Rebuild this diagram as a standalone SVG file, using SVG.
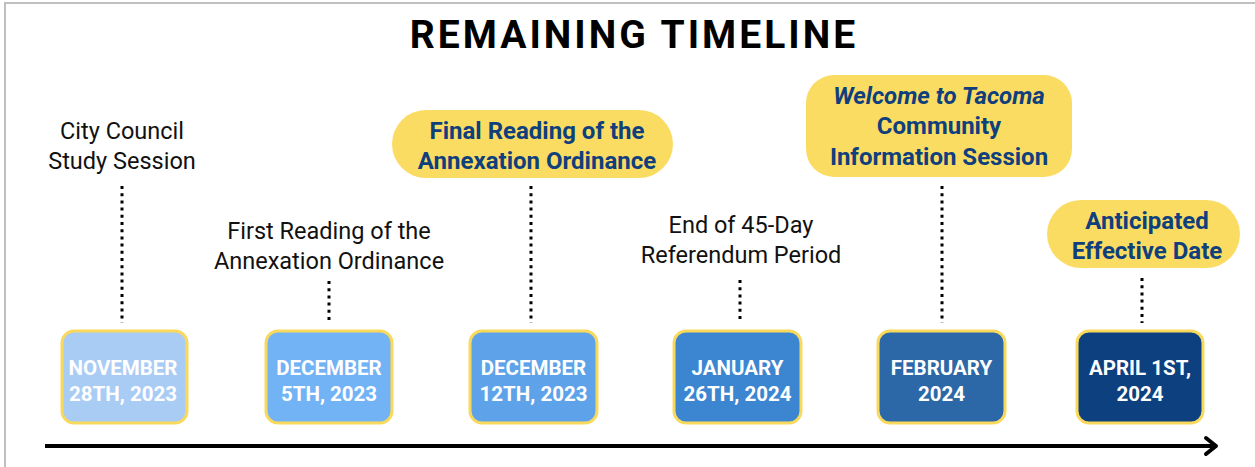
<svg xmlns="http://www.w3.org/2000/svg" width="1255" height="467" viewBox="0 0 1255 467">
<style>
.title{font-family:Roboto,"Liberation Sans",sans-serif;font-weight:700;font-size:39px;letter-spacing:3px;fill:#000;text-anchor:middle}
.lbl{font-family:Roboto,"Liberation Sans",sans-serif;font-size:23.5px;fill:#111;text-anchor:middle}
.pill{fill:#fbdc62}
.ptxt{font-family:Roboto,"Liberation Sans",sans-serif;font-weight:700;font-size:24px;fill:#0f3f7c;text-anchor:middle}
.box{stroke:#f9d95c;stroke-width:3}
.btxt{font-family:Roboto,"Liberation Sans",sans-serif;font-weight:700;font-size:20.5px;fill:#fff;text-anchor:middle}
.dot{stroke:#000;stroke-width:3;stroke-dasharray:3 4.2;fill:none}
</style>
<rect x="5" y="3" width="1260" height="480" fill="#fff" stroke="#c0c0c0" stroke-width="2"/>
<text class="title" x="634" y="48">REMAINING TIMELINE</text>
<g id="connectors">
<line class="dot" x1="122" y1="186" x2="122" y2="323"/>
<line class="dot" x1="329" y1="281" x2="329" y2="323"/>
<line class="dot" x1="531" y1="186" x2="531" y2="323"/>
<line class="dot" x1="740" y1="280" x2="740" y2="323"/>
<line class="dot" x1="942" y1="186" x2="942" y2="323"/>
<line class="dot" x1="1142" y1="278" x2="1142" y2="323"/>
<line x1="45" y1="446" x2="1214" y2="446" stroke="#000" stroke-width="4"/>
<polyline points="1206,438 1216,446 1206,454" fill="none" stroke="#000" stroke-width="4" stroke-linecap="round" stroke-linejoin="round"/>
</g>
<g id="lbl-nov28"><text class="lbl" x="122" y="139">City Council</text><text class="lbl" x="122" y="169">Study Session</text></g>
<g id="lbl-dec5"><text class="lbl" x="329" y="239">First Reading of the</text><text class="lbl" x="329" y="269">Annexation Ordinance</text></g>
<g id="lbl-dec12"><rect class="pill" x="392" y="110" width="281" height="68" rx="34"/><text class="ptxt" x="537" y="139">Final Reading of the</text><text class="ptxt" x="537" y="169">Annexation Ordinance</text></g>
<g id="lbl-jan26"><text class="lbl" x="741" y="233">End of 45-Day</text><text class="lbl" x="741" y="263">Referendum Period</text></g>
<g id="lbl-feb"><rect class="pill" x="806" y="75" width="266" height="102" rx="28"/><text class="ptxt" x="939" y="104" font-style="italic">Welcome to Tacoma</text><text class="ptxt" x="939" y="134">Community</text><text class="ptxt" x="939" y="165">Information Session</text></g>
<g id="lbl-apr1"><rect class="pill" x="1047" y="200" width="193" height="68" rx="34"/><text class="ptxt" x="1147" y="229">Anticipated</text><text class="ptxt" x="1147" y="259">Effective Date</text></g>
<g id="box-nov28"><rect class="box" x="62" y="331" width="125" height="92" rx="12" fill="#a9ccf5"/><text class="btxt" x="123" y="375">NOVEMBER</text><text class="btxt" x="123" y="401">28TH, 2023</text></g>
<g id="box-dec5"><rect class="box" x="266" y="331" width="126" height="92" rx="12" fill="#72b3f6"/><text class="btxt" x="329" y="375">DECEMBER</text><text class="btxt" x="329" y="401">5TH, 2023</text></g>
<g id="box-dec12"><rect class="box" x="470" y="331" width="127" height="92" rx="12" fill="#5ea3ea"/><text class="btxt" x="533.5" y="375">DECEMBER</text><text class="btxt" x="533.5" y="401">12TH, 2023</text></g>
<g id="box-jan26"><rect class="box" x="674" y="331" width="127" height="92" rx="12" fill="#3c86d1"/><text class="btxt" x="737.5" y="375">JANUARY</text><text class="btxt" x="737.5" y="401">26TH, 2024</text></g>
<g id="box-feb"><rect class="box" x="878" y="331" width="127" height="92" rx="12" fill="#2c68a7"/><text class="btxt" x="941.5" y="375">FEBRUARY</text><text class="btxt" x="941.5" y="401">2024</text></g>
<g id="box-apr1"><rect class="box" x="1077" y="331" width="126" height="92" rx="12" fill="#0d407e"/><text class="btxt" x="1140" y="375">APRIL 1ST,</text><text class="btxt" x="1140" y="401">2024</text></g>
</svg>
